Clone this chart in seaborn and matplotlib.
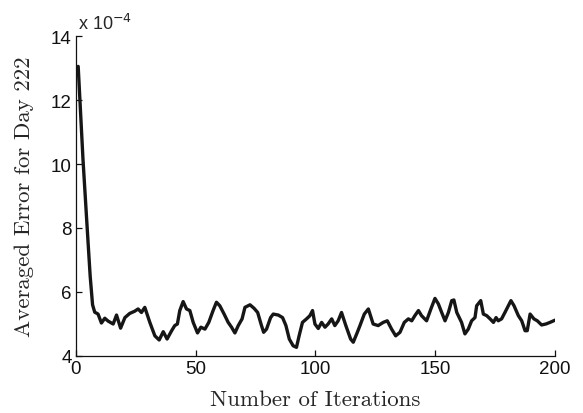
import matplotlib
matplotlib.use("Agg")
import matplotlib.pyplot as plt
import seaborn as sns
import pandas as pd

iterations = [1, 2, 3, 4, 5, 6, 7, 7.9, 9.3, 10.7, 12.1, 13.5, 15.6, 17, 18.7, 20.5, 22.5, 24.6, 26, 27.4,
              28.8, 30.9, 33, 34.8, 36.5, 38.1, 40, 41.3, 42.4, 43.4, 44.8, 46.2, 47.6, 49, 50.8, 52.2,
              53.9, 55.5, 57.3, 58.7, 60.1, 61.9, 63.6, 65, 66.4, 67.8, 69.4, 70.6, 72.7, 74.4, 75.9,
              77.5, 78.4, 79.6, 81.3, 82.4, 84.5, 86.3, 87.7, 89.1, 90.7, 92.1, 93.2, 94.6, 96.3, 97.7,
              98.8, 99.8, 101.2, 102.6, 104, 105.3, 106.8, 108.1, 109.5, 110.9, 112.7, 114.7, 115.8,
              117.5, 118.6, 120.4, 122.1, 124.1, 126.2, 128.3, 130, 131.8, 133.5, 135.3, 137.1, 138.8,
              140.2, 141.5, 143, 144.3, 146.4, 148.2, 149.9, 151.3, 152.7, 154.1, 155.5, 156.9, 157.8,
              159, 161, 162.4, 163.8, 165.2, 166.6, 167.3, 169, 170.1, 171.5, 172.9, 174.3, 175.4,
              176.3, 177.7, 179.1, 180.5, 181.6, 182.9, 184.7, 186.1, 187.5, 188.4, 189.6, 191.2,
              192.6, 194.4, 196.2, 197.9, 200]
error_e4 = [13.05, 11.6, 10.15, 8.9, 7.7, 6.5, 5.6, 5.37, 5.31, 5.03, 5.18, 5.09, 5.0, 5.28, 4.87, 5.2,
            5.33, 5.4, 5.47, 5.36, 5.52, 5.05, 4.63, 4.5, 4.76, 4.53, 4.79, 4.95, 5.0, 5.42, 5.7, 5.47,
            5.42, 5.05, 4.72, 4.9, 4.84, 5.05, 5.42, 5.68, 5.57, 5.31, 5.05, 4.9, 4.72, 4.95, 5.16,
            5.52, 5.6, 5.49, 5.36, 4.95, 4.74, 4.84, 5.2, 5.31, 5.28, 5.2, 4.95, 4.53, 4.32, 4.27,
            4.63, 5.05, 5.16, 5.26, 5.42, 5.0, 4.86, 5.05, 4.9, 5.0, 5.16, 4.95, 5.1, 5.36, 4.95,
            4.53, 4.43, 4.74, 4.95, 5.31, 5.47, 5.0, 4.95, 5.05, 5.1, 4.84, 4.63, 4.74, 5.05, 5.16,
            5.1, 5.26, 5.42, 5.26, 5.1, 5.47, 5.8, 5.63, 5.36, 5.1, 5.36, 5.73, 5.75, 5.36, 5.05,
            4.69, 4.84, 5.1, 5.2, 5.57, 5.73, 5.31, 5.26, 5.16, 5.05, 5.2, 5.1, 5.16, 5.36, 5.57,
            5.73, 5.57, 5.26, 5.1, 4.79, 4.79, 5.31, 5.16, 5.1, 4.97, 5.0, 5.05, 5.12]
assert len(iterations) == len(error_e4), (len(iterations), len(error_e4))

x_ticks = [0, 50, 100, 150, 200]
y_ticks = [4, 6, 8, 10, 12, 14]

sns.set_style("ticks")
plt.rcParams["font.family"] = ["Liberation Sans", "DejaVu Sans"]
plt.rcParams["xtick.direction"] = "in"
plt.rcParams["ytick.direction"] = "in"

df = pd.DataFrame({"it": iterations, "err": error_e4})

fig = plt.figure(figsize=(5.83, 4.14), dpi=100)
ax = fig.add_axes([0.130, 0.1377, 0.822, 0.7729])
sns.lineplot(data=df, x="it", y="err", ax=ax, color="#161616", linewidth=2.4,
             estimator=None, sort=False)

ax.set_xlim(0, 200)
ax.set_ylim(4, 14)
ax.set_xticks(x_ticks)
ax.set_yticks(y_ticks)
ax.tick_params(axis="both", labelsize=13.5, length=4, width=0.9, colors="#111111", pad=3)
for s in ["top", "right"]:
    ax.spines[s].set_visible(False)
for s in ["left", "bottom"]:
    ax.spines[s].set_linewidth(0.9)
    ax.spines[s].set_color("#111111")

serif = ["cmr10", "DejaVu Serif"]
ax.set_xlabel("Number of Iterations", fontsize=16.5, family=serif, labelpad=9)
ax.set_ylabel("Averaged Error for Day 222", fontsize=16.5, family=serif, labelpad=12)
ax.text(0.005, 1.01, r"x 10$^{-4}$", transform=ax.transAxes, fontsize=13,
        ha="left", va="bottom")

fig.savefig("out.png", dpi=100)
